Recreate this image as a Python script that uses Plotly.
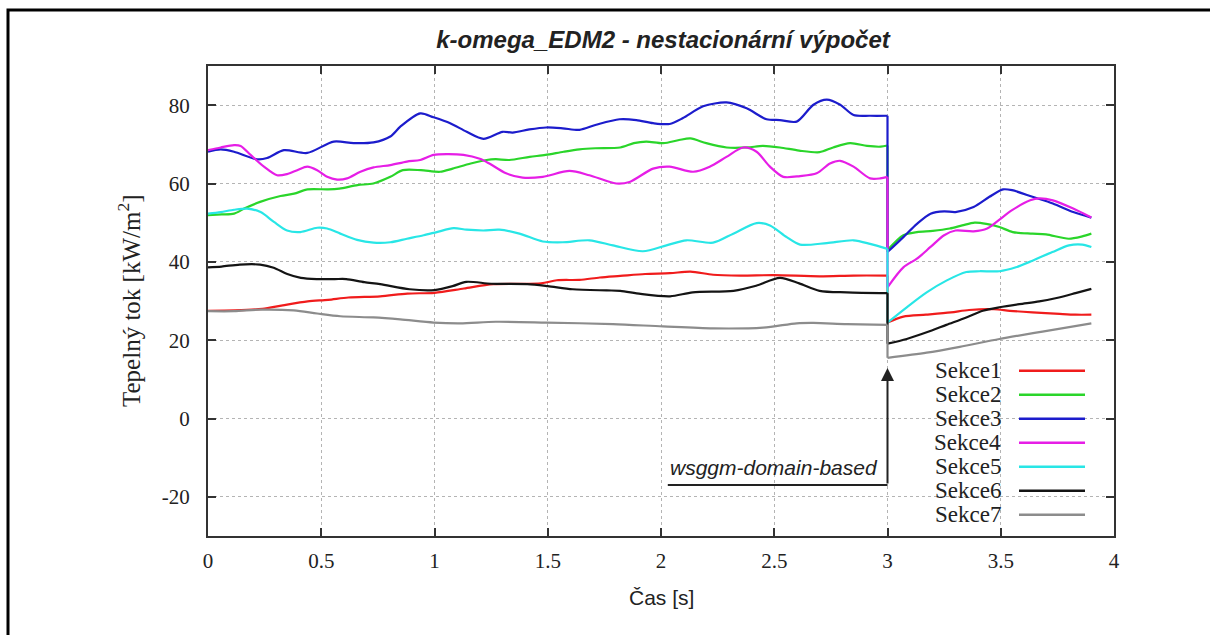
import plotly.graph_objects as go

# Heat flux per section, before (a) and after (b) the switch to the wsggm-domain-based model at t = 3 s
s1_ta = [0, 0.12, 0.24, 0.33, 0.44, 0.53, 0.62, 0.76, 0.88, 1.0, 1.13, 1.26, 1.47, 1.54, 1.64, 1.73, 1.82, 1.93, 2.04, 2.13, 2.23, 2.35, 2.5, 2.7, 2.85, 3.0]
s1_qa = [27.5, 27.6, 28.0, 28.9, 29.9, 30.3, 30.9, 31.2, 31.9, 32.1, 33.2, 34.3, 34.5, 35.3, 35.4, 36.0, 36.4, 36.9, 37.1, 37.5, 36.7, 36.5, 36.6, 36.3, 36.5, 36.5]
s1_tb = [3.0, 3.07, 3.17, 3.28, 3.36, 3.47, 3.54, 3.64, 3.76, 3.83, 3.9]
s1_qb = [24.5, 26.0, 26.5, 27.1, 27.7, 27.9, 27.5, 27.1, 26.7, 26.5, 26.5]

s2_ta = [0, 0.06, 0.115, 0.16, 0.23, 0.32, 0.38, 0.44, 0.53, 0.58, 0.66, 0.73, 0.805, 0.86, 0.94, 1.025, 1.08, 1.16, 1.23, 1.27, 1.33, 1.42, 1.49, 1.57, 1.64, 1.71, 1.82, 1.88, 1.935, 2.01, 2.08, 2.13, 2.2, 2.29, 2.38, 2.45, 2.525, 2.61, 2.7, 2.76, 2.835, 2.91, 2.97, 3.0]
s2_qa = [51.9, 52.1, 52.3, 53.6, 55.3, 56.8, 57.4, 58.5, 58.5, 58.7, 59.6, 60.0, 61.7, 63.4, 63.4, 63.0, 63.8, 65.1, 66.0, 66.2, 66.0, 66.8, 67.3, 68.1, 68.7, 69.0, 69.2, 70.3, 70.7, 70.3, 71.1, 71.5, 70.3, 69.2, 69.2, 69.6, 69.2, 68.4, 68.0, 69.2, 70.3, 69.6, 69.4, 69.7]
s2_tb = [3.0, 3.07, 3.13, 3.2, 3.275, 3.33, 3.385, 3.436, 3.494, 3.553, 3.64, 3.7, 3.8, 3.86, 3.9]
s2_qb = [43.0, 46.8, 47.6, 47.9, 48.5, 49.3, 50.0, 49.7, 48.9, 47.6, 47.2, 47.0, 45.9, 46.5, 47.2]

s3_ta = [0, 0.056, 0.115, 0.217, 0.261, 0.335, 0.438, 0.555, 0.643, 0.731, 0.805, 0.849, 0.937, 0.996, 1.069, 1.142, 1.216, 1.3, 1.345, 1.419, 1.493, 1.566, 1.64, 1.714, 1.817, 1.891, 1.965, 2.038, 2.097, 2.186, 2.289, 2.378, 2.466, 2.525, 2.599, 2.673, 2.732, 2.791, 2.85, 2.923, 3.0]
s3_qa = [68.1, 68.7, 68.1, 66.2, 66.5, 68.5, 67.8, 70.7, 70.3, 70.5, 72.0, 74.5, 77.9, 76.9, 75.4, 73.2, 71.4, 73.2, 73.0, 73.8, 74.3, 74.1, 73.7, 75.0, 76.4, 76.2, 75.4, 75.2, 76.7, 79.7, 80.7, 79.2, 76.4, 76.2, 75.8, 80.1, 81.4, 80.1, 77.5, 77.3, 77.3]
s3_tb = [3.0, 3.07, 3.13, 3.19, 3.25, 3.3, 3.38, 3.45, 3.51, 3.55, 3.64, 3.73, 3.82, 3.9]
s3_qb = [42.5, 46.3, 49.7, 52.3, 52.9, 52.7, 54.0, 56.6, 58.5, 58.3, 56.6, 54.9, 52.7, 51.3]

s4_ta = [0, 0.056, 0.115, 0.144, 0.188, 0.247, 0.305, 0.349, 0.394, 0.438, 0.482, 0.526, 0.57, 0.614, 0.673, 0.731, 0.805, 0.878, 0.937, 0.996, 1.054, 1.128, 1.2, 1.242, 1.316, 1.389, 1.478, 1.596, 1.684, 1.802, 1.861, 1.965, 2.038, 2.142, 2.215, 2.289, 2.363, 2.422, 2.481, 2.54, 2.614, 2.687, 2.746, 2.791, 2.85, 2.923, 2.968, 3.0]
s4_qa = [68.5, 69.2, 69.8, 69.6, 67.3, 64.3, 62.1, 62.4, 63.4, 64.3, 63.4, 61.7, 61.0, 61.3, 63.0, 64.1, 64.7, 65.6, 66.0, 67.3, 67.5, 67.3, 66.3, 65.1, 62.6, 61.5, 61.7, 63.2, 62.1, 60.0, 60.4, 63.8, 64.3, 63.0, 64.3, 66.8, 69.2, 68.1, 64.3, 61.7, 61.9, 62.6, 65.1, 65.8, 64.3, 61.3, 61.3, 61.7]
s4_tb = [3.0, 3.07, 3.13, 3.19, 3.25, 3.3, 3.38, 3.44, 3.49, 3.55, 3.63, 3.67, 3.73, 3.82, 3.9]
s4_qb = [33.5, 38.6, 40.8, 43.8, 46.8, 48.0, 47.8, 48.5, 50.6, 53.2, 55.7, 56.2, 55.7, 53.6, 51.3]

s5_ta = [0, 0.056, 0.115, 0.173, 0.232, 0.291, 0.349, 0.408, 0.482, 0.526, 0.584, 0.658, 0.731, 0.805, 0.878, 0.952, 1.01, 1.084, 1.142, 1.216, 1.286, 1.375, 1.478, 1.566, 1.684, 1.788, 1.92, 2.024, 2.112, 2.23, 2.319, 2.422, 2.481, 2.555, 2.614, 2.732, 2.85, 2.923, 3.0]
s5_qa = [52.3, 52.7, 53.3, 53.6, 52.7, 50.2, 48.0, 47.6, 48.7, 48.5, 47.2, 45.6, 44.9, 45.0, 45.9, 46.8, 47.6, 48.6, 48.2, 48.0, 48.2, 47.2, 45.2, 45.0, 45.5, 44.2, 42.7, 44.2, 45.5, 44.9, 47.2, 49.9, 49.3, 46.3, 44.4, 44.8, 45.5, 44.6, 43.3]
s5_tb = [3.0, 3.085, 3.173, 3.26, 3.348, 3.406, 3.494, 3.567, 3.64, 3.728, 3.801, 3.86, 3.9]
s5_qb = [24.5, 28.4, 32.2, 35.2, 37.4, 37.6, 37.6, 38.6, 40.3, 42.5, 44.2, 44.4, 43.8]

s6_ta = [0, 0.06, 0.14, 0.23, 0.29, 0.35, 0.41, 0.48, 0.56, 0.61, 0.69, 0.76, 0.89, 1.0, 1.08, 1.14, 1.25, 1.41, 1.5, 1.61, 1.76, 1.82, 1.91, 2.04, 2.14, 2.32, 2.42, 2.525, 2.61, 2.7, 2.82, 3.0]
s6_qa = [38.6, 38.8, 39.3, 39.3, 38.5, 36.9, 35.9, 35.6, 35.6, 35.6, 34.8, 34.3, 33.0, 32.8, 33.8, 34.9, 34.4, 34.3, 33.8, 33.0, 32.7, 32.6, 31.8, 31.2, 32.2, 32.6, 33.9, 35.9, 34.5, 32.6, 32.2, 32.0]
s6_tb = [3.0, 3.085, 3.173, 3.26, 3.348, 3.421, 3.494, 3.582, 3.67, 3.757, 3.83, 3.9]
s6_qb = [19.1, 20.3, 22.0, 23.9, 25.8, 27.5, 28.4, 29.2, 29.9, 30.9, 32.0, 33.1]

s7_ta = [0, 0.115, 0.232, 0.379, 0.482, 0.584, 0.731, 0.849, 0.996, 1.113, 1.27, 1.493, 1.788, 2.009, 2.23, 2.451, 2.599, 2.673, 2.82, 3.0]
s7_qa = [27.4, 27.4, 27.8, 27.6, 26.8, 26.1, 25.8, 25.3, 24.5, 24.3, 24.7, 24.5, 24.1, 23.5, 23.0, 23.2, 24.3, 24.4, 24.1, 23.9]
s7_tb = [3.0, 3.173, 3.319, 3.494, 3.684, 3.9]
s7_qb = [15.5, 16.8, 18.3, 20.3, 22.2, 24.3]

names = ["Sekce1", "Sekce2", "Sekce3", "Sekce4", "Sekce5", "Sekce6", "Sekce7"]
colors = ["#f01c1c", "#2ad52a", "#1c1ccc", "#e61ee6", "#28e6e6", "#141414", "#8c8c8c"]

x_ticks = [0, 0.5, 1, 1.5, 2, 2.5, 3, 3.5, 4]
x_tick_text = ["0", "0.5", "1", "1.5", "2", "2.5", "3", "3.5", "4"]
y_ticks = [-20, 0, 20, 40, 60, 80]
y_tick_text = ["-20", "0", "20", "40", "60", "80"]

series = [
    (s1_ta, s1_qa, s1_tb, s1_qb),
    (s2_ta, s2_qa, s2_tb, s2_qb),
    (s3_ta, s3_qa, s3_tb, s3_qb),
    (s4_ta, s4_qa, s4_tb, s4_qb),
    (s5_ta, s5_qa, s5_tb, s5_qb),
    (s6_ta, s6_qa, s6_tb, s6_qb),
    (s7_ta, s7_qa, s7_tb, s7_qb),
]

W, H = 1210, 635
ML, MR, MT, MB = 208, 96, 66, 99
PW, PH = W - ML - MR, H - MT - MB
SERIF = "Liberation Serif, Times New Roman, serif"
SANS = "Liberation Sans, Arial, sans-serif"


def px_x(px):
    return (px - ML) / PW


def px_y(py):
    return (H - MB - py) / PH


fig = go.Figure()
LW = 2.2
for name, col, (ta, qa, tb, qb) in zip(names, colors, series):
    curve = dict(color=col, width=LW, shape="spline", smoothing=0.8)
    fig.add_trace(go.Scatter(x=ta, y=qa, mode="lines", name=name, legendgroup=name,
                             line=curve, showlegend=False, hoverinfo="skip"))
    # step at the model switch
    fig.add_trace(go.Scatter(x=[ta[-1], tb[0]], y=[qa[-1], qb[0]], mode="lines", legendgroup=name,
                             line=dict(color=col, width=LW), showlegend=False, hoverinfo="skip"))
    fig.add_trace(go.Scatter(x=tb, y=qb, mode="lines", legendgroup=name,
                             line=curve, showlegend=False, hoverinfo="skip"))

shapes = []
annotations = []

# key: name on the left, line sample on the right
for i, (name, col) in enumerate(zip(names, colors)):
    yy = px_y(370.7 + 24 * i)
    annotations.append(dict(xref="paper", yref="paper", x=px_x(1003), y=yy, text=name,
                            showarrow=False, xanchor="right", yanchor="middle",
                            font=dict(family=SERIF, size=23, color="#222")))
    shapes.append(dict(type="line", xref="paper", yref="paper", x0=px_x(1019), x1=px_x(1085),
                       y0=yy, y1=yy, line=dict(color=col, width=2.5)))

# switch marker: arrow, leader line and label
annotations.append(dict(xref="x", yref="y", x=3, y=12.9, axref="x", ayref="y", ax=3, ay=-17,
                        text="", showarrow=True, arrowhead=2, arrowsize=1.3, arrowwidth=2,
                        arrowcolor="#222", standoff=0))
shapes.append(dict(type="line", xref="x", yref="y", x0=2.03, x1=3, y0=-17, y1=-17,
                   line=dict(color="#222", width=2)))
annotations.append(dict(xref="x", yref="y", x=2.03, y=-17, yshift=4, text="<i>wsggm-domain-based</i>",
                        showarrow=False, xanchor="left", yanchor="bottom",
                        font=dict(family=SANS, size=21, color="#222")))

# axis titles
annotations.append(dict(xref="paper", yref="paper", x=px_x(129), y=0.5, textangle=-90,
                        text="Tepelný tok [kW/m<sup>2</sup>]", showarrow=False,
                        xanchor="center", yanchor="middle",
                        font=dict(family=SERIF, size=25, color="#222")))
annotations.append(dict(xref="paper", yref="paper", x=0.5, y=px_y(597),
                        text="Čas [s]", showarrow=False, xanchor="center", yanchor="middle",
                        font=dict(family=SANS, size=21, color="#222")))

# outer frame
shapes.append(dict(type="rect", xref="paper", yref="paper", x0=px_x(8), x1=px_x(1216),
                   y0=px_y(645), y1=px_y(10), line=dict(color="#000", width=3), layer="above"))

axis_common = dict(showline=True, linecolor="#333", linewidth=2, mirror="ticks",
                   ticks="inside", ticklen=8, tickwidth=2, tickcolor="#333",
                   showgrid=True, gridcolor="#b4b4b4", gridwidth=1, griddash="dot",
                   zeroline=False,
                   tickfont=dict(family=SERIF, size=21, color="#222"))

fig.update_layout(
    width=W, height=H,
    margin=dict(l=ML, r=MR, t=MT, b=MB),
    paper_bgcolor="white", plot_bgcolor="white",
    showlegend=False,
    title=dict(text="<i>k-omega_EDM2 - nestacionární výpočet</i>", x=(661 + 2) / W,
               xanchor="center", y=1 - 40 / H, yanchor="middle",
               font=dict(family=SANS, size=24, color="#222", weight="bold")),
    xaxis=dict(range=[0, 4], tickvals=x_ticks, ticktext=x_tick_text, ticklabelstandoff=5, **axis_common),
    yaxis=dict(range=[-30, 90], tickvals=y_ticks, ticktext=y_tick_text, ticklabelstandoff=12, **axis_common),
    shapes=shapes,
    annotations=annotations,
)

fig.write_html("out.html")
